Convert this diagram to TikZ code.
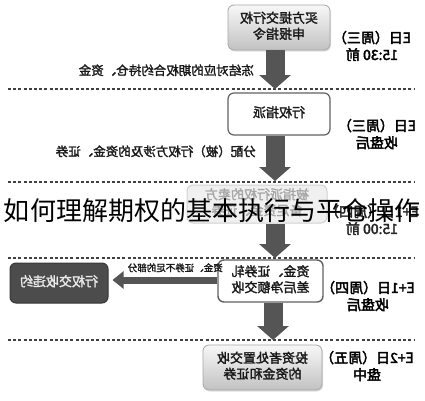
\documentclass[tikz,border=0pt]{standalone}
\usepackage{fontspec}
\usepackage{graphicx}
\usetikzlibrary{arrows.meta,shadows}
\newfontfamily\cjk{Noto Sans CJK SC}
\newfontfamily\cjkb[FakeBold=2]{Noto Sans CJK SC}
\newfontfamily\cjkbb[FakeBold=3]{Noto Sans CJK SC}
\newcommand\mir[1]{\reflectbox{\begin{tabular}{@{}c@{}}#1\end{tabular}}}
\definecolor{arrowgray}{HTML}{555555}
\begin{document}
\begin{tikzpicture}[x=1pt,y=-1pt,
  boxbase/.style={rounded corners=6pt, inner sep=0pt, align=center, font=\cjkb\fontsize{13}{16}\selectfont, text=black!90},
  graybox/.style={boxbase, draw=black!35, line width=0.8pt, top color=black!3, bottom color=black!24, drop shadow={opacity=0.25,shadow xshift=1pt,shadow yshift=-1.5pt}},
  whitebox/.style={boxbase, draw=black!62, line width=1.2pt, fill=white},
  fadebox/.style={boxbase, draw=black!18, fill=black!6, text=black!35, line width=1pt},
  darkbox/.style={boxbase, draw=black!78, line width=1pt, fill=black!70, text=black!8},
  tlabel/.style={font=\cjkbb\fontsize{14}{17}\selectfont, text=black, inner sep=0pt},
  alabel/.style={font=\cjkb\fontsize{12.5}{15}\selectfont, inner sep=0pt, text=black!90},
  bigarrow/.style={line width=19pt, draw=arrowgray, -{Triangle[width=31pt,length=14pt]}},
  sidearrow/.style={line width=7pt, draw=arrowgray, -{Triangle[width=17pt,length=11pt]}},
  dashline/.style={draw=black!75, line width=1.1pt, dash pattern=on 3pt off 2.2pt}]
\useasboundingbox[fill=white] (0,0) rectangle (425,400);

% dashed separators
\coordinate (d1L) at (8,89);   \coordinate (d1R) at (415,89);
\coordinate (d2L) at (8,182);  \coordinate (d2R) at (415,182);
\coordinate (d3L) at (8,258);  \coordinate (d3R) at (415,258);
\coordinate (d4L) at (8,340);  \coordinate (d4R) at (415,340);
\draw[dashline] (d1L) -- (d1R);
\draw[dashline] (d2L) -- (d2R);
\draw[dashline] (d3L) -- (d3R);
\draw[dashline] (d4L) -- (d4R);

% boxes
\node[graybox, minimum width=102pt, minimum height=45pt] (b1) at (279,27.5) {\mir{买方提交行权\\申报指令}};
\node[whitebox, minimum width=102pt, minimum height=42pt] (b2) at (279,114) {\mir{行权指派}};
\node[fadebox, minimum width=140pt, minimum height=38pt] (b3) at (257,204) {\mir{被指派行权的卖方\\备足资金、证券}};
\node[whitebox, minimum width=105pt, minimum height=42pt, line width=1.4pt] (b4) at (270.5,281) {\mir{资金、证券轧\\差后净额交收}};
\node[darkbox, minimum width=98pt, minimum height=40pt] (b5) at (59,283) {\mir{行权交收违约}};
\node[graybox, minimum width=119pt, minimum height=45pt] (b6) at (262.5,367.5) {\mir{投资者处置交收\\的资金和证券}};

% time labels
\node[tlabel] (l1) at (372,48) {\mir{E日（周三）\\15:30 前}};
\node[tlabel] (l2) at (377,136) {\mir{E日（周三）\\收盘后}};
\node[tlabel, text=black!85] (l3) at (372,222) {\mir{E+1日（周四）\\15:00 前}};
\node[tlabel] (l4) at (368,298) {\mir{E+1日（周四）\\收盘后}};
\node[tlabel] (l6) at (367,368) {\mir{E+2日（周五）\\盘中}};

% vertical arrows
\coordinate (e1) at (275,89);
\coordinate (e2) at (275,181);
\coordinate (e3) at (275,258);
\coordinate (e4) at (273,340);
\draw[bigarrow] (b1.south -| e1) -- (e1);
\draw[bigarrow] (b2.south -| e2) -- (e2);
\draw[bigarrow] (b3.south -| e3) -- (e3);
\draw[bigarrow] (b4.south -| e4) -- (e4);

% side arrow
\draw[sidearrow, shorten >=4pt] (b4.west |- 0,280) -- (b5.east |- 0,280);

% arrow labels
\node[alabel, anchor=east] (a1) at (254,72) {\mir{冻结对应的期权合约持仓、资金}};
\node[alabel, anchor=east] (a2) at (256,153) {\mir{分配（被）行权方涉及的资金、证券}};
\node[alabel, font=\cjkb\fontsize{9.5}{11}\selectfont, anchor=east] (a4) at (223,269) {\mir{资金、证券不足的部分}};

% overlay title
\node[font=\cjk\fontsize{26}{28}\selectfont, inner sep=0pt, text=black] (title) at (212,211) {如何理解期权的基本执行与平仓操作};
\end{tikzpicture}
\end{document}
